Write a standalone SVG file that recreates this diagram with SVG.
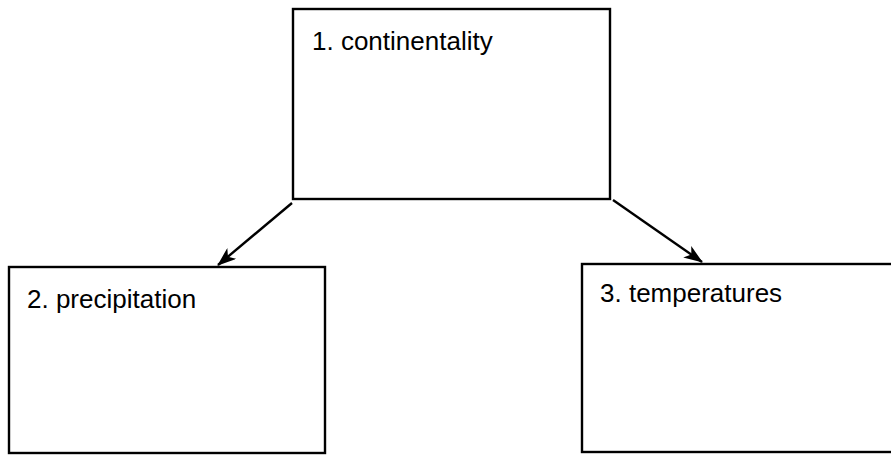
<svg xmlns="http://www.w3.org/2000/svg" width="891" height="456" viewBox="0 0 891 456">
<defs>
<style>
.box{fill:#fff;stroke:#000;stroke-width:2.4}
.lbl{font-family:"Liberation Sans",Arial,sans-serif;font-size:26px;fill:#000}
.conn{stroke:#000;stroke-width:2.4;fill:none}
</style>
<marker id="ah" markerUnits="userSpaceOnUse" markerWidth="20" markerHeight="14" viewBox="0 0 20 14" refX="18" refY="7" orient="auto">
<path d="M0,0 L19,7 L0,14 L5,7 Z" fill="#000"/>
</marker>
</defs>
<rect width="891" height="456" fill="#fff"/>
<g id="node1">
<rect class="box" x="293" y="9" width="317" height="190"/>
<text class="lbl" x="312" y="50">1. continentality</text>
</g>
<g id="node2">
<rect class="box" x="9" y="267" width="316" height="186"/>
<text class="lbl" x="27" y="308">2. precipitation</text>
</g>
<g id="node3">
<rect class="box" x="582" y="264" width="330" height="188"/>
<text class="lbl" x="600" y="302">3. temperatures</text>
</g>
<g id="connectors">
<line class="conn" x1="292" y1="203" x2="218" y2="265" marker-end="url(#ah)"/>
<line class="conn" x1="613" y1="200" x2="702" y2="262" marker-end="url(#ah)"/>
</g>
</svg>
